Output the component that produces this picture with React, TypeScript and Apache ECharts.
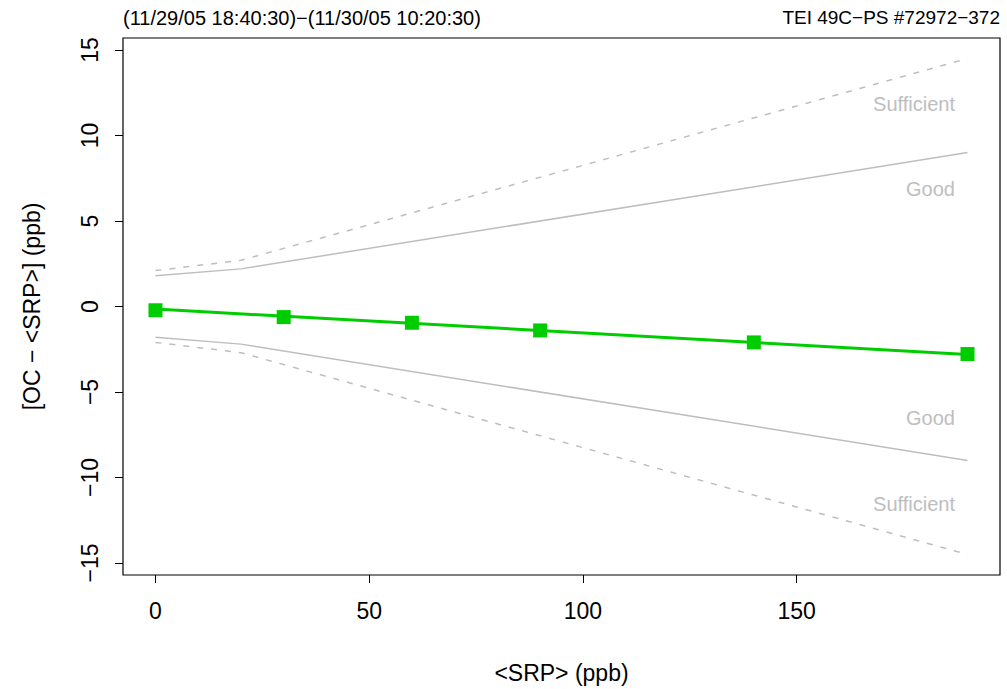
import React, { useEffect, useRef } from "react";
import * as echarts from "echarts";

const headerLeft = "(11/29/05 18:40:30)\u2212(11/30/05 10:20:30)";
const headerRight = "TEI 49C\u2212PS #72972\u2212372";
const xTicks = [0, 50, 100, 150];
const yTicks = [-15, -10, -5, 0, 5, 10, 15];

const srp = [0, 30, 60, 90, 140, 190];
const diff = [-0.22, -0.62, -0.95, -1.4, -2.1, -2.78];

const fitX = [0, 190];
const fitY = [-0.15, -2.8];

const boundX = [0, 20, 190];
const goodUpper = [1.8, 2.2, 9.0];
const goodLower = [-1.8, -2.2, -9.0];
const suffUpper = [2.1, 2.7, 14.5];
const suffLower = [-2.1, -2.7, -14.5];

const FONT = "'Liberation Sans', Arial, sans-serif";
const GREY = "#BEBEBE";
const GREEN = "#00CD00";

const zip = (xs: number[], ys: number[]) => xs.map((x, i) => [x, ys[i]]);

export default function App() {
  const ref = useRef<HTMLDivElement>(null);
  useEffect(() => {
    if (!ref.current) return;
    const chart = echarts.init(ref.current, null, { renderer: "svg" });
    const boundLine = (data: number[][], dashed: boolean) => ({
      type: "line",
      data,
      symbol: "none",
      silent: true,
      lineStyle: { color: GREY, width: 1.5, type: dashed ? [6, 8] : "solid" },
      z: 1,
    });
    chart.setOption({
      animation: false,
      textStyle: { fontFamily: FONT },
      grid: {
        left: 123,
        top: 38,
        width: 877,
        height: 537,
        show: true,
        borderColor: "#000",
        borderWidth: 1.2,
        backgroundColor: "transparent",
      },
      xAxis: {
        type: "value",
        min: -7.6,
        max: 197.6,
        splitLine: { show: false },
        axisLine: { show: false, onZero: false },
        axisTick: { show: true, inside: false, customValues: xTicks, length: 8, lineStyle: { color: "#000", width: 1 } },
        axisLabel: { customValues: xTicks, color: "#000", fontSize: 23, margin: 24, fontFamily: FONT },
        name: "<SRP> (ppb)",
        nameLocation: "middle",
        nameGap: 86,
        nameTextStyle: { color: "#000", fontSize: 23, fontFamily: FONT },
      },
      yAxis: {
        type: "value",
        min: -15.7,
        max: 15.7,
        splitLine: { show: false },
        axisLine: { show: false, onZero: false },
        axisTick: { show: true, inside: false, customValues: yTicks, length: 8, lineStyle: { color: "#000", width: 1 } },
        axisLabel: { customValues: yTicks, color: "#000", fontSize: 23, margin: 22, rotate: 90, fontFamily: FONT, formatter: (v: number) => (v < 0 ? "\u2212" + Math.abs(v) : String(v)) },
        name: "[OC \u2212 <SRP>] (ppb)",
        nameLocation: "middle",
        nameGap: 80,
        nameTextStyle: { color: "#000", fontSize: 23, fontFamily: FONT },
      },
      graphic: [
        { type: "text", left: 123, top: 8, style: { text: headerLeft, font: `20px ${FONT}`, fill: "#000" } },
        { type: "text", right: 7, top: 8, style: { text: headerRight, font: `19px ${FONT}`, fill: "#000" } },
        { type: "text", x: 955, y: 104, style: { text: "Sufficient", font: `20px ${FONT}`, fill: GREY, align: "right", verticalAlign: "middle" } },
        { type: "text", x: 955, y: 189, style: { text: "Good", font: `20px ${FONT}`, fill: GREY, align: "right", verticalAlign: "middle" } },
        { type: "text", x: 955, y: 418, style: { text: "Good", font: `20px ${FONT}`, fill: GREY, align: "right", verticalAlign: "middle" } },
        { type: "text", x: 955, y: 504, style: { text: "Sufficient", font: `20px ${FONT}`, fill: GREY, align: "right", verticalAlign: "middle" } },
      ],
      series: [
        boundLine(zip(boundX, suffUpper), true),
        boundLine(zip(boundX, goodUpper), false),
        boundLine(zip(boundX, goodLower), false),
        boundLine(zip(boundX, suffLower), true),
        {
          type: "line",
          data: zip(fitX, fitY),
          symbol: "none",
          lineStyle: { color: GREEN, width: 3 },
          z: 3,
        },
        {
          type: "scatter",
          data: zip(srp, diff),
          symbol: "rect",
          symbolSize: 14,
          itemStyle: { color: GREEN, opacity: 1 },
          z: 4,
        },
      ],
    });
    return () => chart.dispose();
  }, []);
  return (
    <div
      ref={ref}
      style={{ position: "absolute", left: 0, top: 0, width: 1007, height: 689, background: "#fff" }}
    />
  );
}
